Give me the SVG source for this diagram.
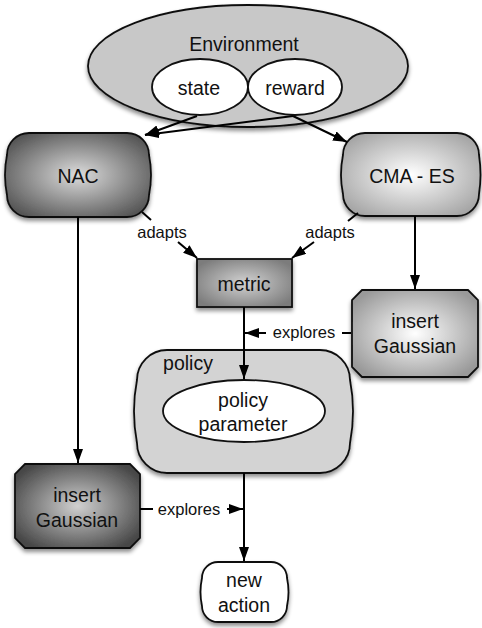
<svg xmlns="http://www.w3.org/2000/svg" width="482" height="628" viewBox="0 0 482 628">
<defs>
  <style>
    .t { font-family: "Liberation Sans", Arial, sans-serif; fill: #111; text-anchor: middle; }
    .big { font-size: 19.5px; }
    .lbl { font-size: 16.5px; }
    .shape { stroke: #111; stroke-width: 1.8; }
    .conn { stroke: #000; stroke-width: 2; fill: none; }
  </style>
  <filter id="sh" x="-20%" y="-20%" width="140%" height="150%">
    <feDropShadow dx="0" dy="3" stdDeviation="2" flood-color="#000" flood-opacity="0.45"/>
  </filter>
  <marker id="ah" viewBox="0 0 14 10" refX="14" refY="5" markerWidth="14" markerHeight="10" markerUnits="userSpaceOnUse" orient="auto">
    <path d="M0,0 L14,5 L0,10 Z" fill="#000"/>
  </marker>
  <radialGradient id="gNAC" cx="50%" cy="50%" r="60%">
    <stop offset="0" stop-color="#dcdcdc"/>
    <stop offset="1" stop-color="#555"/>
  </radialGradient>
  <radialGradient id="gCMA" cx="50%" cy="50%" r="60%">
    <stop offset="0" stop-color="#ffffff"/>
    <stop offset="1" stop-color="#a5a5a5"/>
  </radialGradient>
  <radialGradient id="gMet" cx="50%" cy="50%" r="60%">
    <stop offset="0" stop-color="#d2d2d2"/>
    <stop offset="1" stop-color="#7c7c7c"/>
  </radialGradient>
  <radialGradient id="gIGR" cx="50%" cy="50%" r="60%">
    <stop offset="0" stop-color="#ffffff"/>
    <stop offset="1" stop-color="#999"/>
  </radialGradient>
  <radialGradient id="gIGL" cx="50%" cy="50%" r="60%">
    <stop offset="0" stop-color="#d0d0d0"/>
    <stop offset="1" stop-color="#474747"/>
  </radialGradient>
</defs>

<g id="environment">
  <ellipse cx="248" cy="66" rx="160" ry="61" fill="#c8c8c8" class="shape" filter="url(#sh)"/>
  <text class="t big" x="244" y="51">Environment</text>
</g>
<g id="state">
  <ellipse cx="200" cy="87" rx="48" ry="28" fill="#fff" class="shape"/>
  <text class="t big" x="199" y="95">state</text>
</g>
<g id="reward">
  <ellipse cx="295" cy="87" rx="47" ry="28" fill="#fff" class="shape"/>
  <text class="t big" x="295" y="95">reward</text>
</g>

<g id="nac">
  <path class="shape" fill="url(#gNAC)" filter="url(#sh)" d="M29,133 H127 A22,22 0 0 1 149,155 Q153,175 149,195 A22,22 0 0 1 127,217 H29 A22,22 0 0 1 7,195 Q3,175 7,155 A22,22 0 0 1 29,133 Z"/>
  <text class="t big" x="78" y="183">NAC</text>
</g>
<g id="cmaes">
  <path class="shape" fill="url(#gCMA)" filter="url(#sh)" d="M365,133 H457 A22,22 0 0 1 479,155 Q482,175 479,194 A22,22 0 0 1 457,216 H365 A22,22 0 0 1 343,194 Q339,175 343,155 A22,22 0 0 1 365,133 Z"/>
  <text class="t big" x="412" y="183">CMA - ES</text>
</g>
<g id="metric">
  <rect class="shape" fill="url(#gMet)" filter="url(#sh)" x="197" y="259" width="95" height="48"/>
  <text class="t big" x="244" y="291">metric</text>
</g>
<g id="insert-gaussian-right">
  <path class="shape" fill="url(#gIGR)" filter="url(#sh)" d="M362,290 H468 L478,300 V367 L468,377 H362 L352,367 V300 Z"/>
  <text class="t big" x="415" y="328">insert</text>
  <text class="t big" x="415" y="353">Gaussian</text>
</g>
<g id="policy">
  <path class="shape" fill="#d3d3d3" filter="url(#sh)" d="M167,350 H320 A30,30 0 0 1 350,380 Q356,411 350,443 A30,30 0 0 1 320,473 H167 A30,30 0 0 1 137,443 Q131,411 137,380 A30,30 0 0 1 167,350 Z"/>
  <text class="t big" x="188" y="370">policy</text>
</g>
<g id="policy-parameter">
  <ellipse cx="244" cy="411" rx="81" ry="31" fill="#fff" class="shape"/>
  <text class="t big" x="243" y="407">policy</text>
  <text class="t big" x="243" y="431">parameter</text>
</g>
<g id="insert-gaussian-left">
  <path class="shape" fill="url(#gIGL)" filter="url(#sh)" d="M25,464 H130 L140,474 V538 L130,548 H25 L15,538 V474 Z"/>
  <text class="t big" x="77" y="502">insert</text>
  <text class="t big" x="77" y="527">Gaussian</text>
</g>
<g id="new-action">
  <path class="shape" fill="#fff" filter="url(#sh)" d="M218,562 H271 A16,16 0 0 1 287,578 Q290,592 287,606 A16,16 0 0 1 271,622 H218 A16,16 0 0 1 202,606 Q199,592 202,578 A16,16 0 0 1 218,562 Z"/>
  <text class="t big" x="244" y="587">new</text>
  <text class="t big" x="244" y="612">action</text>
</g>

<g id="connectors">
  <line class="conn" x1="197" y1="116" x2="145" y2="135" marker-end="url(#ah)"/>
  <line class="conn" x1="293" y1="116" x2="145" y2="135" marker-end="url(#ah)"/>
  <line class="conn" x1="293" y1="116" x2="347" y2="142" marker-end="url(#ah)"/>

  <line class="conn" x1="142" y1="212" x2="151" y2="220"/>
  <text class="t lbl" x="162" y="238">adapts</text>
  <line class="conn" x1="178" y1="242" x2="197" y2="258" marker-end="url(#ah)"/>

  <line class="conn" x1="358" y1="213" x2="348" y2="221"/>
  <text class="t lbl" x="330" y="238">adapts</text>
  <line class="conn" x1="314" y1="242" x2="292" y2="258" marker-end="url(#ah)"/>

  <line class="conn" x1="78" y1="217" x2="78" y2="463" marker-end="url(#ah)"/>
  <line class="conn" x1="415" y1="216" x2="415" y2="289" marker-end="url(#ah)"/>

  <line class="conn" x1="244" y1="307" x2="244" y2="379" marker-end="url(#ah)"/>
  <line class="conn" x1="351" y1="333" x2="342" y2="333"/>
  <text class="t lbl" x="304" y="338">explores</text>
  <line class="conn" x1="266" y1="333" x2="245" y2="333" marker-end="url(#ah)"/>

  <line class="conn" x1="244" y1="473" x2="244" y2="561" marker-end="url(#ah)"/>
  <line class="conn" x1="140" y1="509" x2="153" y2="509"/>
  <text class="t lbl" x="189" y="515">explores</text>
  <line class="conn" x1="227" y1="509" x2="243" y2="509" marker-end="url(#ah)"/>
</g>
</svg>
